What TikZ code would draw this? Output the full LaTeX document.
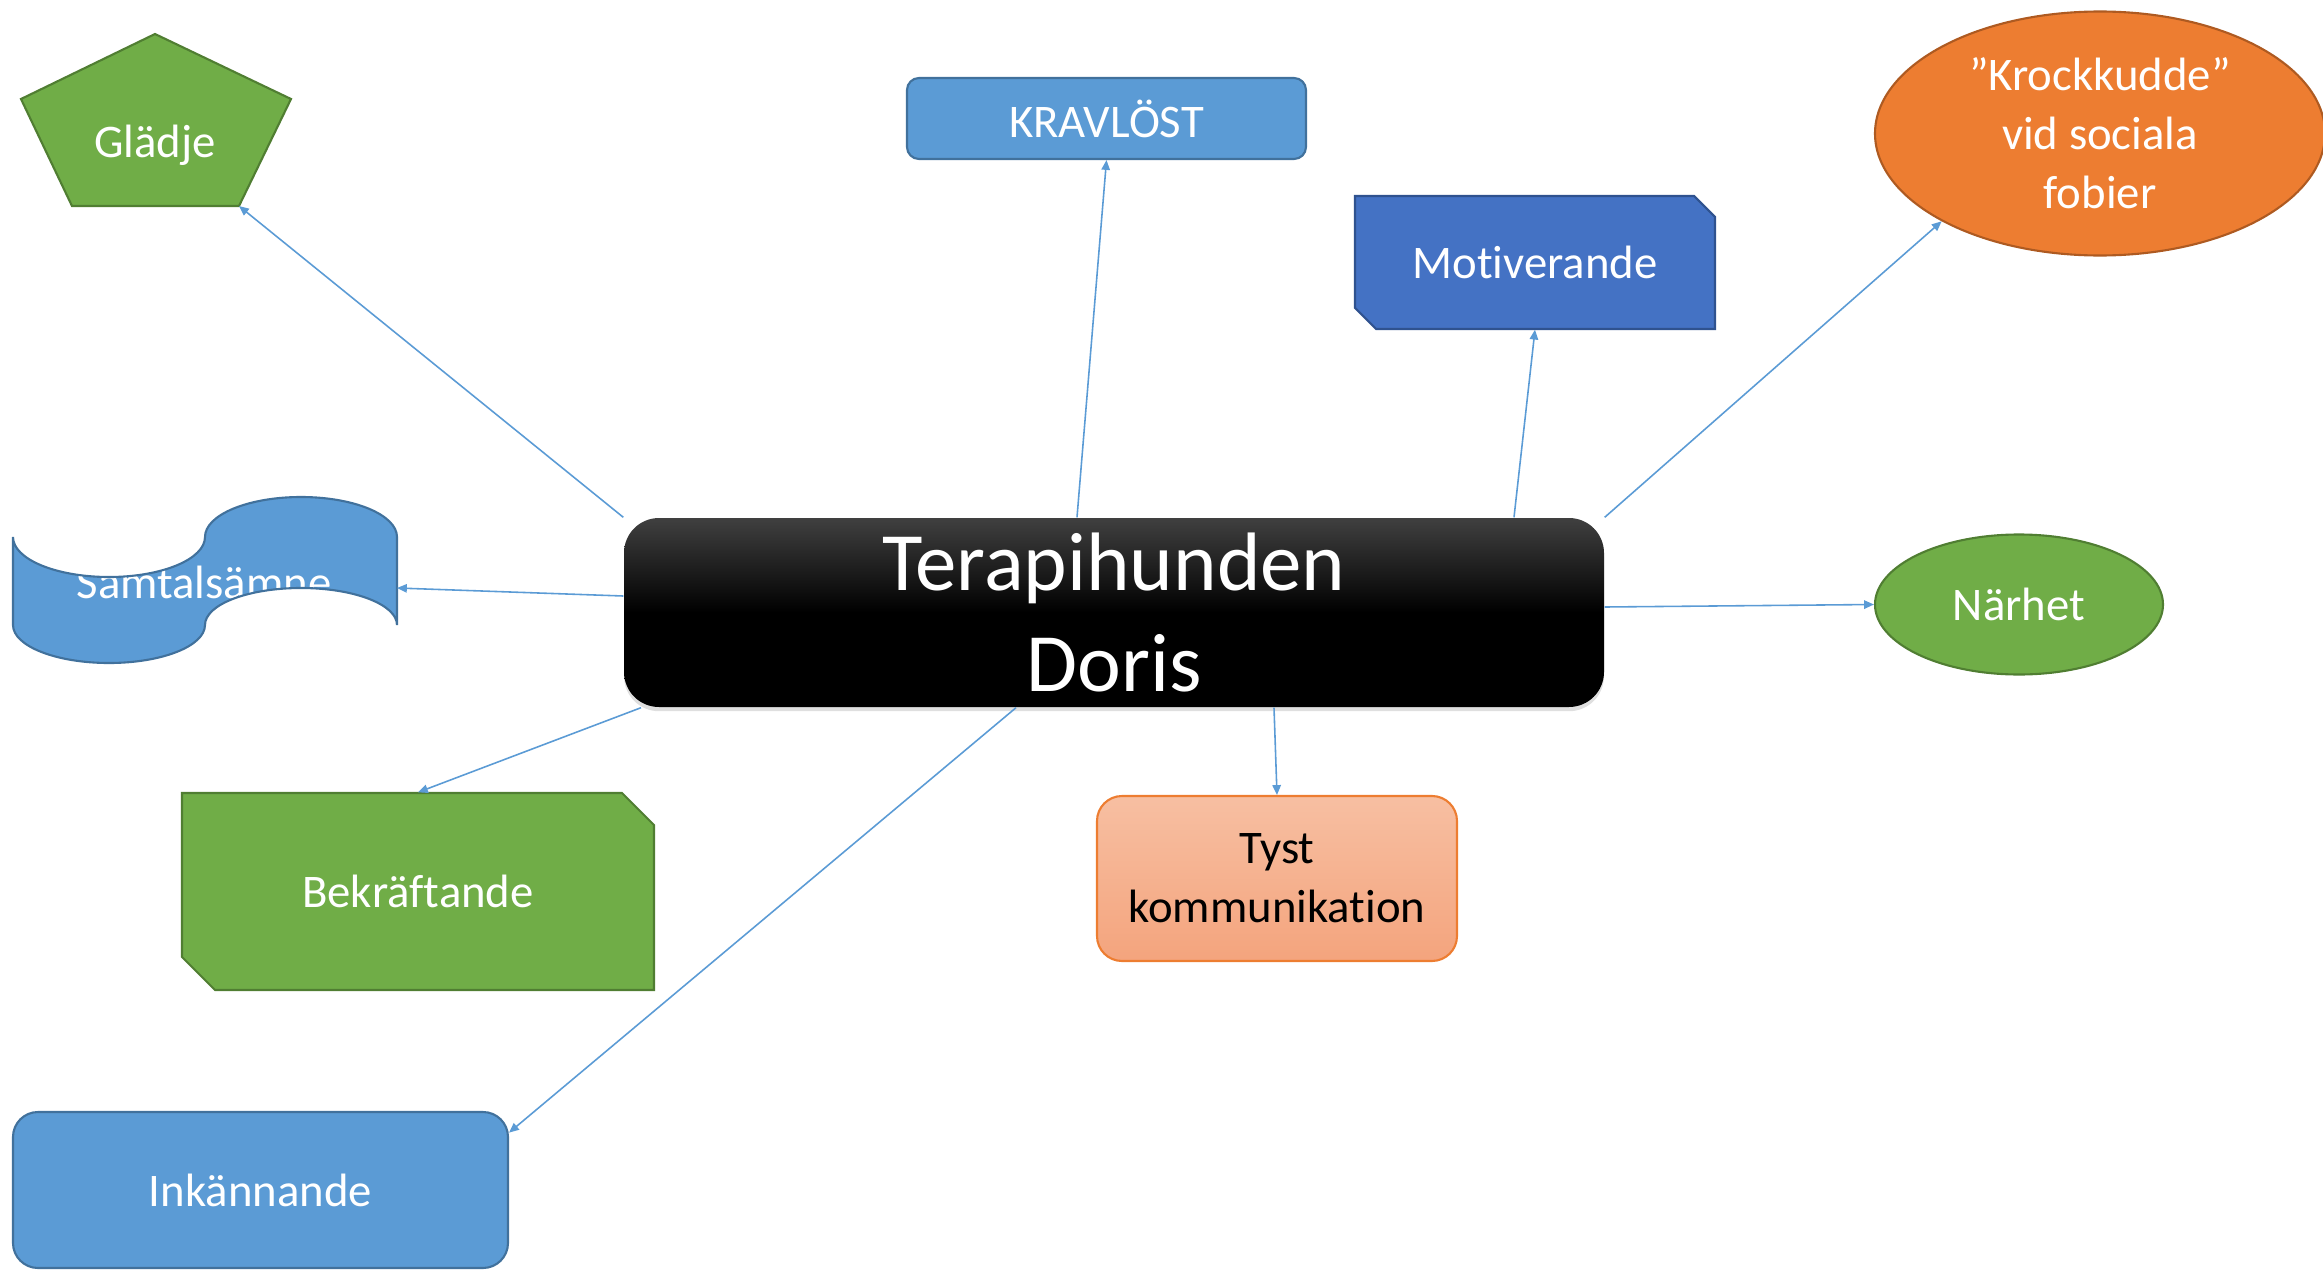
\documentclass[tikz,border=0pt]{standalone}
\usepackage{fontspec}
\setmainfont{Carlito}[Ligatures=NoCommon]
\usetikzlibrary{arrows.meta,shapes.geometric,shadows}
\definecolor{accblue}{HTML}{5B9BD5}
\definecolor{accblueline}{HTML}{41719C}
\definecolor{deepblue}{HTML}{4472C4}
\definecolor{deepblueline}{HTML}{2F528F}
\definecolor{accgreen}{HTML}{70AD47}
\definecolor{accgreenline}{HTML}{507E32}
\definecolor{accorange}{HTML}{ED7D31}
\definecolor{accorangeline}{HTML}{AE5A21}
\definecolor{peachtop}{HTML}{F7BFA2}
\definecolor{peachbot}{HTML}{F4A47D}

\begin{document}
\begin{tikzpicture}[
  lbl/.style={text=white, font=\fontsize{13.3}{16.8}\selectfont, align=center, inner sep=0pt},
  link/.style={draw=accblue, line width=0.45pt, -{Triangle[length=2.8pt,width=2.4pt]}},
  edge/.style={line width=0.6pt}
]
\useasboundingbox (0,0) rectangle (23.23,-12.70);

% Central box
\node[rounded corners=0.35cm, minimum width=9.8cm, minimum height=1.89cm, inner sep=0pt,
  top color=black!75, bottom color=black, middle color=black,
  drop shadow={opacity=0.25, shadow xshift=0pt, shadow yshift=-1.2pt},
  text=white, align=center, font=\fontsize{23.6}{28.5}\selectfont]
  (hub) at (11.14,-6.125) {Terapihunden\\Doris};

% Glädje (pentagon)
\coordinate (gladje-br) at (2.39,-2.06);
\filldraw[fill=accgreen, draw=accgreenline, edge] (1.55,-0.34) -- (2.91,-0.99) -- (gladje-br)
  -- (0.72,-2.06) -- (0.21,-0.99) -- cycle;
\node[lbl, anchor=base] (gladje) at (1.55,-1.57) {Glädje};

% KRAVLÖST
\node[lbl, fill=accblue, draw=accblueline, edge, rounded corners=0.12cm,
  minimum width=3.99cm, minimum height=0.81cm] (kravlost) at (11.065,-1.185) {KRAVLÖST};

% Motiverande (snipped corners)
\filldraw[fill=deepblue, draw=deepblueline, edge] (13.55,-1.96) -- (16.94,-1.96) -- (17.15,-2.17)
  -- (17.15,-3.29) -- (13.76,-3.29) -- (13.55,-3.08) -- cycle;
\node[lbl, minimum width=3.6cm, minimum height=1.33cm] (motiv) at (15.35,-2.625) {Motiverande};

% Krockkudde
\node[lbl, ellipse, fill=accorange, draw=accorangeline, edge, minimum width=4.5cm,
  minimum height=2.44cm] (krock) at (21.0,-1.335) {”Krockkudde”\\vid sociala\\fobier};

% Närhet
\node[lbl, ellipse, fill=accgreen, draw=accgreenline, edge, minimum width=2.88cm,
  minimum height=1.40cm] (narhet) at (20.19,-6.045) {Närhet};

% Samtalsämne (wave)
\coordinate (samtal-e) at (3.97,-5.88);
\fill[accblue] (0.13,-5.37) arc (180:360:0.96cm and 0.40cm) arc (180:0:0.96cm and 0.40cm)
  -- (3.97,-6.25) arc (0:180:0.96cm and 0.37cm) arc (0:-180:0.96cm and 0.38cm) -- cycle;
\node[lbl, anchor=base] (samtal) at (2.04,-5.98) {Samtalsämne};
\draw[accblueline, edge] (0.13,-5.37) arc (180:360:0.96cm and 0.40cm) arc (180:0:0.96cm and 0.40cm)
  -- (3.97,-6.25) arc (0:180:0.96cm and 0.37cm) arc (0:-180:0.96cm and 0.38cm) -- cycle;

% Bekräftande (snipped corners)
\filldraw[fill=accgreen, draw=accgreenline, edge] (1.82,-7.93) -- (6.22,-7.93) -- (6.54,-8.25)
  -- (6.54,-9.90) -- (2.15,-9.90) -- (1.82,-9.57) -- cycle;
\node[lbl, minimum width=4.72cm, minimum height=1.97cm] (bekr) at (4.18,-8.915) {Bekräftande};

% Tyst kommunikation
\node[lbl, text=black, rounded corners=0.25cm, draw=accorange, edge, top color=peachtop,
  bottom color=peachbot, minimum width=3.6cm, minimum height=1.65cm]
  (tyst) at (12.77,-8.785) {Tyst\\kommunikation};

% Inkännande
\node[lbl, fill=accblue, draw=accblueline, edge, rounded corners=0.25cm,
  minimum width=4.95cm, minimum height=1.56cm] (inkan) at (2.605,-11.90) {Inkännande};

% Connectors
\draw[link] (hub.north west) -- (gladje-br);
\draw[link] ([xshift=-0.37cm]hub.north) -- (kravlost.south);
\draw[link] ([xshift=4cm]hub.north) -- (motiv.south);
\draw[link] (hub.north east) -- (krock.209);
\draw[link] ([yshift=0.055cm]hub.east) -- (narhet.west);
\draw[link] ([xshift=1.6cm]hub.south) -- (tyst.north);
\draw[link] ([xshift=-0.98cm]hub.south) -- (inkan.13);
\draw[link] ([xshift=-4.73cm]hub.south) -- (bekr.north);
\draw[link] ([yshift=0.165cm]hub.west) -- (samtal-e);

\end{tikzpicture}
\end{document}
